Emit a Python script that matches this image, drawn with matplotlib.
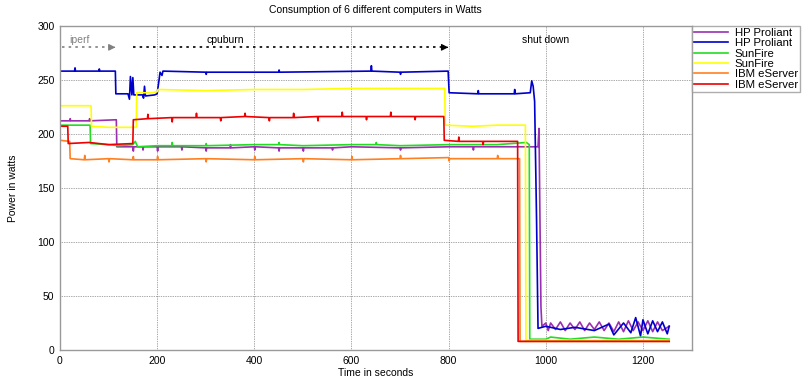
import matplotlib
matplotlib.use('Agg')
from matplotlib import pyplot as plt

plt.rcParams['font.family'] = ['Liberation Sans', 'DejaVu Sans']

# (time s, watts)
hp1 = [(0, 212), (20, 212), (21, 214), (22, 212), (60, 212), (61, 214), (62, 212),
       (116, 213), (117, 188), (150, 188), (151, 184), (152, 188), (170, 188),
       (171, 185), (172, 188), (200, 188), (201, 184), (202, 188), (250, 188),
       (251, 185), (252, 188), (300, 187), (301, 184), (302, 187), (350, 187),
       (351, 190), (352, 187), (400, 188), (401, 185), (402, 188), (450, 187),
       (451, 184), (452, 187), (500, 187), (501, 184), (502, 187), (560, 187),
       (561, 185), (562, 187), (600, 188), (700, 187), (701, 185), (702, 187),
       (800, 188), (850, 188), (851, 185), (852, 188), (900, 188), (984, 188),
       (986, 205), (988, 120), (990, 40), (992, 22), (1000, 25), (1005, 18),
       (1010, 25), (1020, 19), (1030, 26), (1040, 18), (1050, 25), (1060, 19),
       (1070, 26), (1080, 18), (1090, 25), (1100, 19), (1110, 26), (1120, 18),
       (1130, 25), (1140, 17), (1150, 26), (1160, 17), (1170, 27), (1180, 18),
       (1190, 26), (1200, 18), (1210, 27), (1220, 17), (1230, 26), (1240, 18),
       (1254, 22)]
hp2 = [(0, 258), (30, 258), (31, 261), (32, 258), (80, 258), (81, 260), (82, 258),
       (114, 258), (115, 237), (140, 237), (143, 232), (145, 253), (148, 236),
       (150, 252), (152, 236), (170, 236), (172, 233), (174, 244), (176, 235),
       (195, 236), (200, 237), (204, 250), (206, 257), (210, 254), (212, 258),
       (300, 257), (301, 255), (302, 257), (450, 257), (451, 259), (452, 257),
       (640, 258), (641, 263), (642, 258), (700, 257), (701, 255), (702, 257),
       (799, 258), (801, 238), (860, 237), (861, 240), (862, 237), (935, 237),
       (936, 241), (937, 237), (968, 238), (971, 249), (974, 244), (977, 230),
       (981, 120), (984, 20), (1000, 22), (1030, 19), (1060, 21), (1100, 18),
       (1130, 24), (1140, 14), (1160, 25), (1175, 16), (1185, 30), (1195, 13),
       (1200, 28), (1210, 15), (1220, 27), (1230, 17), (1240, 26), (1250, 15),
       (1254, 22)]
sun1 = [(0, 208), (30, 208), (62, 208), (63, 191), (100, 190), (120, 189),
        (150, 190), (155, 193), (160, 188), (200, 189), (230, 189), (231, 192),
        (232, 189), (300, 189), (301, 191), (302, 189), (400, 190), (450, 190),
        (451, 192), (452, 190), (500, 189), (600, 190), (650, 190), (651, 192),
        (652, 190), (700, 189), (800, 190), (900, 190), (960, 192), (966, 190),
        (967, 10), (1000, 10), (1010, 12), (1050, 10), (1100, 12), (1150, 10),
        (1200, 12), (1254, 10)]
sun2 = [(0, 226), (64, 226), (65, 207), (100, 206), (157, 206), (158, 238),
        (190, 238), (200, 239), (202, 241), (300, 240), (400, 241), (500, 241),
        (600, 242), (700, 242), (792, 242), (793, 208), (850, 207), (900, 208),
        (958, 208), (959, 9), (1254, 9)]
ibm1 = [(0, 194), (20, 193), (21, 177), (50, 176), (51, 180), (52, 176),
        (100, 177), (101, 174), (102, 177), (150, 176), (151, 179), (152, 176),
        (200, 176), (201, 179), (202, 176), (300, 177), (301, 174), (302, 177),
        (400, 176), (401, 179), (402, 176), (500, 177), (501, 174), (502, 177),
        (600, 176), (601, 179), (602, 176), (700, 177), (701, 180), (702, 177),
        (800, 178), (801, 175), (802, 177), (900, 177), (901, 180), (902, 177),
        (946, 177), (947, 8), (1254, 8)]
ibm2 = [(0, 207), (16, 207), (17, 191), (60, 192), (100, 190), (150, 191),
        (151, 213), (180, 214), (181, 218), (182, 214), (230, 215), (231, 211),
        (232, 215), (280, 215), (281, 219), (282, 215), (330, 215), (331, 212),
        (332, 215), (380, 216), (381, 219), (382, 216), (430, 215), (431, 212),
        (432, 215), (480, 215), (481, 219), (482, 215), (530, 216), (531, 212),
        (532, 216), (580, 216), (581, 220), (582, 216), (630, 216), (631, 213),
        (632, 216), (680, 216), (681, 220), (682, 216), (730, 216), (731, 213),
        (732, 216), (790, 216), (791, 194), (820, 193), (821, 197), (822, 193),
        (870, 193), (871, 190), (872, 193), (942, 193), (943, 8), (1254, 8)]

series = [('HP Proliant', hp1, '#9a30b0'), ('HP Proliant', hp2, '#0000cc'),
          ('SunFire', sun1, '#22dd22'), ('SunFire', sun2, '#ffff00'),
          ('IBM eServer', ibm1, '#ff8020'), ('IBM eServer', ibm2, '#ee0000')]

# phase label, arrow start, arrow end, text x, colour
phases = [('iperf', 5, 120, 40, 'gray'),
          ('cpuburn', 150, 805, 340, 'black'),
          ('shut down', None, None, 1000, 'black')]

fig = plt.figure(figsize=(8.06, 3.78), dpi=100)
ax = fig.add_axes([0.0744, 0.074, 0.7836, 0.858])

for name, pts, col in series:
    t, w = zip(*pts)
    ax.plot(t, w, color=col, lw=1.2, label=name)

for txt, x0, x1, tx, col in phases:
    ax.text(tx, 287, txt, color=col, fontsize=7.5, ha='center', va='center')
    if x0 is not None:
        ax.plot([x0, x1 - 12], [280, 280], color=col, ls=(0, (1.5, 2.5)), lw=1.2)
        ax.annotate('', xy=(x1, 280), xytext=(x1 - 14, 280),
                    arrowprops=dict(arrowstyle='-|>', color=col, lw=0.8))

ax.set_xlim(0, 1300)
ax.set_ylim(0, 300)
ax.set_xticks(range(0, 1201, 200))
ax.set_yticks(range(0, 301, 50))
ax.grid(True, color='#555555', ls=(0, (1, 1.5)), lw=0.5)
ax.tick_params(labelsize=7.5, length=0, pad=4)
for s in ax.spines.values():
    s.set_color('#999999')
    s.set_linewidth(1.0)

ax.set_title('Consumption of 6 different computers in Watts', fontsize=7.5, pad=9)
ax.set_xlabel('Time in seconds', fontsize=7.5, labelpad=2)
ax.set_ylabel('Power in watts', fontsize=7.5, labelpad=14)

leg = ax.legend(loc='upper left', bbox_to_anchor=(1.0, 1.0), fontsize=8.2,
                handlelength=3.0, labelspacing=0.03, borderpad=0.2,
                handletextpad=0.6, fancybox=False, borderaxespad=0)
leg.get_frame().set_edgecolor('#999999')
leg.get_frame().set_linewidth(1.0)

fig.savefig('out.png', dpi=100)
